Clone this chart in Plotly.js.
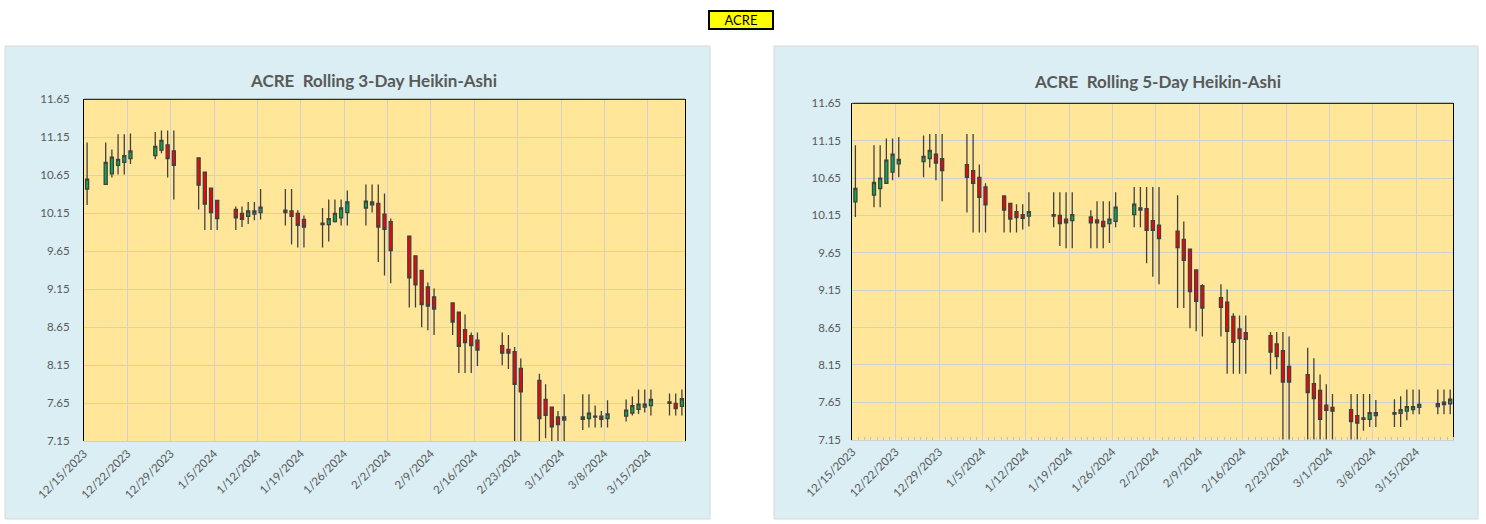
<!DOCTYPE html>
<html>
<head>
<meta charset="utf-8">
<script src="https://cdn.plot.ly/plotly-3.0.1.min.js"></script>
<style>
  html, body { margin: 0; padding: 0; background: #ffffff; }
  #chart { width: 1486px; height: 524px; }
</style>
</head>
<body>
<div id="chart"></div>
<script>
// ---- data ----
const symbol = "ACRE";
const dates = [
  "2023-12-15","2023-12-18","2023-12-19","2023-12-20","2023-12-21","2023-12-22",
  "2023-12-26","2023-12-27","2023-12-28","2023-12-29",
  "2024-01-02","2024-01-03","2024-01-04","2024-01-05",
  "2024-01-08","2024-01-09","2024-01-10","2024-01-11","2024-01-12",
  "2024-01-16","2024-01-17","2024-01-18","2024-01-19",
  "2024-01-22","2024-01-23","2024-01-24","2024-01-25","2024-01-26",
  "2024-01-29","2024-01-30","2024-01-31","2024-02-01","2024-02-02",
  "2024-02-05","2024-02-06","2024-02-07","2024-02-08","2024-02-09",
  "2024-02-12","2024-02-13","2024-02-14","2024-02-15","2024-02-16",
  "2024-02-20","2024-02-21","2024-02-22","2024-02-23",
  "2024-02-26","2024-02-27","2024-02-28","2024-02-29","2024-03-01",
  "2024-03-04","2024-03-05","2024-03-06","2024-03-07","2024-03-08",
  "2024-03-11","2024-03-12","2024-03-13","2024-03-14","2024-03-15",
  "2024-03-18","2024-03-19","2024-03-20"
];

// Rolling 3-day Heikin-Ashi
const open3  = [10.47,10.53,10.67,10.78,10.82,10.87,10.91,10.98,11.05,10.97,
                10.88,10.69,10.48,10.32,10.20,10.15,10.11,10.14,10.16,
                10.19,10.18,10.15,10.07,10.00,10.00,10.04,10.09,10.16,
                10.22,10.26,10.28,10.14,10.04,9.85,9.59,9.40,9.18,9.05,
                8.97,8.85,8.62,8.54,8.48,8.41,8.36,8.33,8.11,
                7.95,7.70,7.60,7.47,7.43,7.44,7.45,7.47,7.48,7.45,
                7.48,7.52,7.57,7.60,7.62,7.65,7.65,7.61];
const high3  = [11.08,11.08,10.99,11.19,11.19,11.20,11.22,11.24,11.24,11.24,
                10.88,10.69,10.48,10.32,10.24,10.24,10.30,10.30,10.47,
                10.47,10.47,10.19,10.12,10.22,10.33,10.33,10.33,10.45,
                10.53,10.53,10.53,10.41,10.08,9.85,9.59,9.40,9.24,9.16,
                8.97,8.85,8.82,8.58,8.58,8.58,8.55,8.39,8.24,
                8.04,7.90,7.60,7.55,7.77,7.77,7.77,7.62,7.55,7.69,
                7.70,7.74,7.83,7.83,7.83,7.78,7.78,7.83];
const low3   = [10.26,10.53,10.62,10.66,10.66,10.80,10.86,10.94,10.62,10.33,
                10.20,9.93,9.93,9.93,9.93,9.97,10.01,10.06,10.07,
                9.99,9.74,9.70,9.70,9.70,9.78,10.03,9.99,9.99,
                9.99,10.16,9.51,9.33,9.23,8.91,8.91,8.65,8.61,8.55,
                8.55,8.05,8.05,8.05,8.14,8.15,8.10,7.00,7.00,
                7.05,7.19,7.10,7.10,7.10,7.30,7.33,7.33,7.33,7.33,
                7.41,7.49,7.51,7.53,7.49,7.49,7.49,7.49];
const close3 = [10.60,10.82,10.89,10.86,10.91,10.97,11.03,11.11,10.87,10.78,
                10.52,10.27,10.16,10.08,10.09,10.07,10.18,10.18,10.23,
                10.16,10.11,9.99,9.97,10.02,10.08,10.15,10.22,10.30,
                10.31,10.30,9.97,9.94,9.66,9.30,9.21,8.95,8.93,8.89,
                8.72,8.40,8.45,8.41,8.35,8.31,8.31,7.90,7.80,
                7.45,7.49,7.34,7.37,7.47,7.47,7.52,7.48,7.44,7.51,
                7.56,7.62,7.64,7.64,7.70,7.67,7.58,7.71];

// Rolling 5-day Heikin-Ashi
const open5  = [10.33,10.42,10.51,10.58,10.73,10.84,10.87,10.91,10.97,10.91,
                10.83,10.75,10.66,10.53,10.41,10.31,10.20,10.16,10.14,
                10.16,10.15,10.10,10.08,10.13,10.09,10.07,10.04,10.07,
                10.16,10.22,10.24,10.08,10.02,9.94,9.83,9.70,9.42,9.21,
                9.05,8.99,8.80,8.63,8.58,8.54,8.43,8.34,8.13,
                8.02,7.90,7.81,7.61,7.58,7.55,7.47,7.44,7.42,7.47,
                7.49,7.50,7.53,7.55,7.58,7.59,7.62,7.63];
const high5  = [11.09,11.09,11.09,11.18,11.18,11.20,11.22,11.24,11.24,11.24,
                11.24,11.24,10.83,10.58,10.41,10.31,10.30,10.30,10.46,
                10.46,10.46,10.46,10.46,10.22,10.34,10.34,10.34,10.46,
                10.53,10.53,10.53,10.53,10.53,10.42,10.07,9.70,9.42,9.23,
                9.23,9.16,8.84,8.81,8.81,8.59,8.59,8.59,8.53,
                8.38,8.24,8.02,7.89,7.76,7.76,7.76,7.76,7.76,7.68,
                7.69,7.73,7.82,7.82,7.82,7.82,7.82,7.82];
const low5   = [10.13,10.26,10.26,10.58,10.62,10.66,10.66,10.79,10.62,10.34,
                10.19,9.92,9.92,9.92,9.92,9.92,9.92,9.96,10.00,
                9.99,9.74,9.71,9.71,9.71,9.71,9.71,9.78,9.99,
                9.99,9.99,9.51,9.33,9.23,8.91,8.91,8.64,8.60,8.53,
                8.53,8.03,8.03,8.03,8.03,8.02,8.09,7.00,7.00,
                7.00,7.00,7.05,7.05,7.05,7.10,7.10,7.27,7.32,7.32,
                7.32,7.32,7.41,7.49,7.49,7.49,7.49,7.49];
const close5 = [10.51,10.59,10.65,10.89,10.97,10.90,10.94,11.02,10.85,10.75,
                10.66,10.58,10.39,10.29,10.22,10.10,10.12,10.11,10.20,
                10.14,10.04,10.05,10.16,10.05,10.05,10.00,10.10,10.26,
                10.30,10.25,9.95,9.95,9.84,9.72,9.55,9.13,9.00,8.91,
                8.92,8.60,8.45,8.50,8.49,8.32,8.26,7.92,7.92,
                7.78,7.70,7.42,7.54,7.53,7.39,7.37,7.42,7.51,7.51,
                7.51,7.55,7.59,7.59,7.62,7.63,7.65,7.69];

const yTickStart = 7.15, yTickEnd = 11.65, yTickStep = 0.5;

// ---- styling / layout ----
const W = 1486, H = 524;
const px = v => v / W;
const py = v => 1 - v / H;
const GREEN = '#00B050', RED = '#FF0000', EDGE = '#404040';
const GRID = '#D0D0D0', TXT = '#595959';
const FONT = 'Lato, "Open Sans", sans-serif';
const xpos = dates.map(d => d + ' 12:00');

function candle(o, h, l, c, xa, ya) {
  return {
    type: 'candlestick', x: xpos, open: o, high: h, low: l, close: c,
    xaxis: xa, yaxis: ya, hoverinfo: 'skip',
    increasing: { line: { color: EDGE, width: 1.3 }, fillcolor: GREEN },
    decreasing: { line: { color: EDGE, width: 1.3 }, fillcolor: RED },
    whiskerwidth: 0, showlegend: false
  };
}

const traces = [
  candle(open3, high3, low3, close3, 'x', 'y'),
  candle(open5, high5, low5, close5, 'x2', 'y2')
];

function xAxis(domain, minor) {
  const a = {
    domain: domain, type: 'date',
    range: ['2023-12-15', '2024-03-21'],
    tick0: '2023-12-15', dtick: 7 * 86400000,
    tickformat: '%-m/%-d/%Y', tickangle: -45,
    tickfont: { family: FONT, size: 11.5, color: TXT },
    showgrid: true, gridcolor: GRID, gridwidth: 1,
    showline: true, linecolor: GRID, linewidth: 1,
    ticks: '', zeroline: false,
    rangeslider: { visible: false }, fixedrange: true
  };
  if (minor) {
    a.minor = { ticks: 'inside', ticklen: 3, tickcolor: '#BFBFBF', tickwidth: 1,
                dtick: 86400000, showgrid: false };
  }
  return a;
}
function yAxis(domain, anchor, standoff) {
  return {
    domain: domain, anchor: anchor,
    range: [yTickStart, yTickEnd], tick0: yTickStart, dtick: yTickStep,
    tickformat: '.2f',
    tickfont: { family: FONT, size: 11.5, color: TXT },
    showgrid: true, gridcolor: GRID, gridwidth: 1,
    showline: true, linecolor: '#000000', linewidth: 1, mirror: true,
    ticks: '', zeroline: false, fixedrange: true,
    ticklabelstandoff: standoff
  };
}

const L = { x0: 84, x1: 685, y0: 99.3, y1: 441.3 };
const R = { x0: 852.3, x1: 1453.3, y0: 103.3, y1: 439.6 };

const layout = {
  width: W, height: H, autosize: false,
  margin: { l: 0, r: 0, t: 0, b: 0 },
  paper_bgcolor: '#FFFFFF', plot_bgcolor: 'rgba(0,0,0,0)',
  showlegend: false,
  xaxis: Object.assign(xAxis([px(L.x0), px(L.x1)], false), { anchor: 'y' }),
  yaxis: yAxis([py(L.y1), py(L.y0)], 'x', 11),
  xaxis2: Object.assign(xAxis([px(R.x0), px(R.x1)], true), { anchor: 'y2' }),
  yaxis2: yAxis([py(R.y1), py(R.y0)], 'x2', 8),
  shapes: [
    { type: 'rect', xref: 'paper', yref: 'paper', layer: 'below',
      x0: px(5), x1: px(710), y0: py(519), y1: py(46),
      fillcolor: '#DAEEF3', line: { color: '#D9D9D9', width: 1 } },
    { type: 'rect', xref: 'paper', yref: 'paper', layer: 'below',
      x0: px(774), x1: px(1478), y0: py(519), y1: py(46),
      fillcolor: '#DAEEF3', line: { color: '#D9D9D9', width: 1 } },
    { type: 'rect', xref: 'x domain', yref: 'y domain', layer: 'below',
      x0: 0, x1: 1, y0: 0, y1: 1, fillcolor: '#FFE699', line: { width: 0 } },
    { type: 'rect', xref: 'x2 domain', yref: 'y2 domain', layer: 'below',
      x0: 0, x1: 1, y0: 0, y1: 1, fillcolor: '#FFE699', line: { width: 0 } },
    { type: 'line', xref: 'x domain', yref: 'y domain', layer: 'above',
      x0: 0, x1: 1, y0: 1, y1: 1, line: { color: '#000000', width: 1 } },
    { type: 'line', xref: 'x2 domain', yref: 'y2 domain', layer: 'above',
      x0: 0, x1: 1, y0: 1, y1: 1, line: { color: '#000000', width: 1 } }
  ],
  annotations: [
    { xref: 'paper', yref: 'paper', x: px(741), y: py(20.5), xanchor: 'center', yanchor: 'middle',
      text: symbol, showarrow: false, bgcolor: '#FFFF00', bordercolor: '#000000',
      borderwidth: 2, borderpad: 1, width: 60, height: 14,
      font: { family: FONT, size: 13, color: '#000000' } },
    { xref: 'paper', yref: 'paper', x: px(373.5), y: py(80), xanchor: 'center', yanchor: 'middle',
      text: '<b>' + symbol + ' \u00a0Rolling 3-Day Heikin-Ashi</b>', showarrow: false,
      font: { family: FONT, size: 17, color: TXT } },
    { xref: 'paper', yref: 'paper', x: px(1157.5), y: py(82), xanchor: 'center', yanchor: 'middle',
      text: '<b>' + symbol + ' \u00a0Rolling 5-Day Heikin-Ashi</b>', showarrow: false,
      font: { family: FONT, size: 17, color: TXT } }
  ]
};

Plotly.newPlot('chart', traces, layout, { displayModeBar: false, staticPlot: true });
</script>
</body>
</html>
